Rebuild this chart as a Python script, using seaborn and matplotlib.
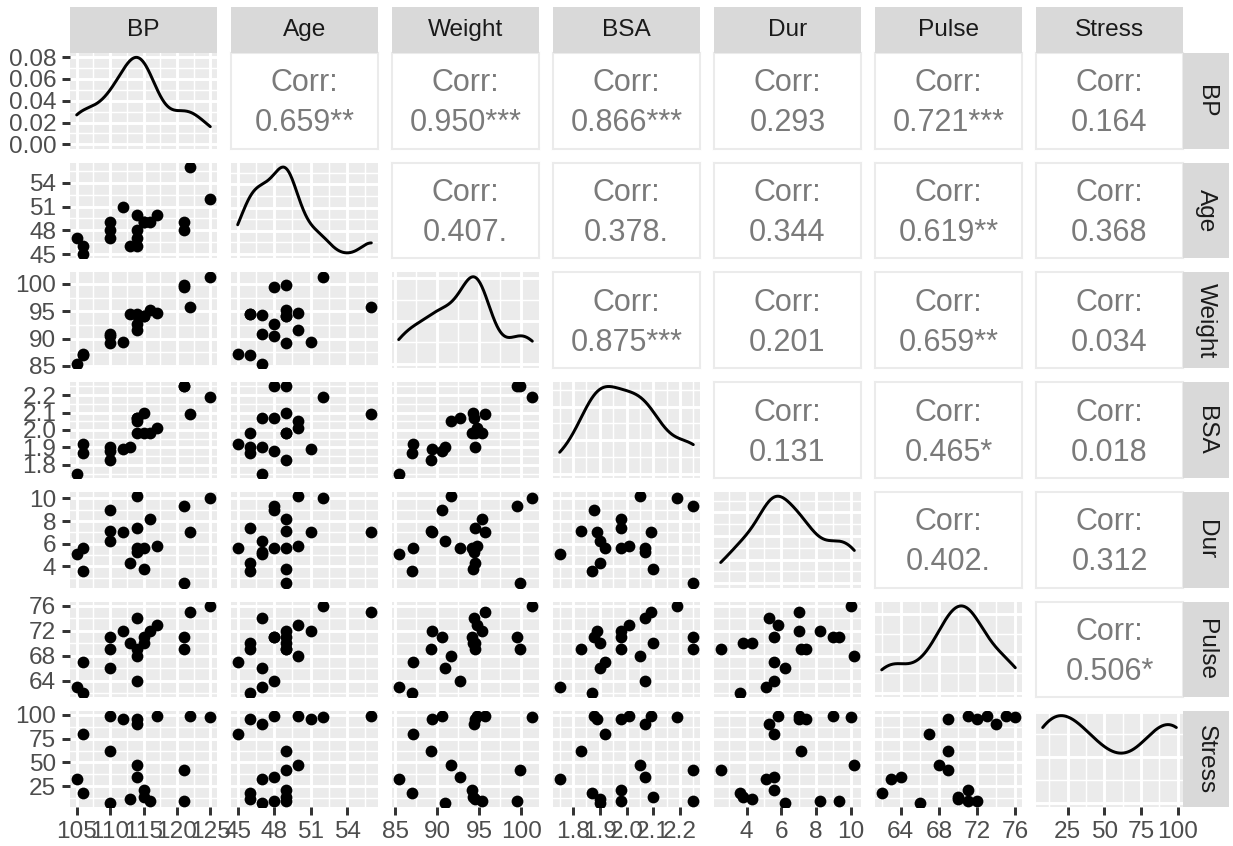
import math

import numpy as np
import pandas as pd
import matplotlib
matplotlib.use("Agg")
import matplotlib.pyplot as plt
from matplotlib.ticker import MaxNLocator
import seaborn as sns

# bloodpress data (20 patients)
bp = [105, 115, 116, 117, 112, 121, 121, 110, 110, 114,
      114, 115, 114, 106, 125, 114, 106, 113, 110, 122]
age = [47, 49, 49, 50, 51, 48, 49, 47, 49, 48,
       47, 49, 50, 45, 52, 46, 46, 46, 48, 56]
weight = [85.4, 94.2, 95.3, 94.7, 89.4, 99.5, 99.8, 90.9, 89.2, 92.7,
          94.4, 94.1, 91.6, 87.1, 101.3, 94.5, 87.0, 94.5, 90.5, 95.7]
bsa = [1.75, 2.10, 1.98, 2.01, 1.89, 2.25, 2.25, 1.90, 1.83, 2.07,
       2.07, 1.98, 2.05, 1.92, 2.19, 1.98, 1.87, 1.90, 1.88, 2.09]
dur = [5.1, 3.8, 8.2, 5.8, 7.0, 9.3, 2.5, 6.2, 7.1, 5.6,
       5.3, 5.6, 10.2, 5.6, 10.0, 7.4, 3.6, 4.3, 9.0, 7.0]
pulse = [63, 70, 72, 73, 72, 71, 69, 66, 69, 64,
         74, 71, 68, 67, 76, 69, 62, 70, 71, 75]
stress = [33, 14, 10, 99, 95, 10, 42, 8, 62, 35,
          90, 21, 47, 80, 98, 95, 18, 12, 99, 99]

# axis breaks
breaks = {
    "BP": [105, 110, 115, 120, 125],
    "Age": [45, 48, 51, 54],
    "Weight": [85, 90, 95, 100],
    "BSA": [1.8, 1.9, 2.0, 2.1, 2.2],
    "Dur": [4, 6, 8, 10],
    "Pulse": [64, 68, 72, 76],
    "Stress": [25, 50, 75, 100],
}
density_breaks = [0.00, 0.02, 0.04, 0.06, 0.08]

df = pd.DataFrame({"BP": bp, "Age": age, "Weight": weight, "BSA": bsa,
                   "Dur": dur, "Pulse": pulse, "Stress": stress})
names = list(df.columns)
n = len(names)

W, H = 1233, 846
SC = 4 / 3  # reference was drawn at a larger resolution than 150 dpi
PANEL_BG = "#EBEBEB"
STRIP_BG = "#D9D9D9"
MAJOR_LW = 1.07 * SC
MINOR_LW = 0.53 * SC
FS = 8.8 * SC


def padded(v):
    lo, hi = float(np.min(v)), float(np.max(v))
    d = (hi - lo) * 0.05
    return lo - d, hi + d


def minor_breaks(major, lo, hi):
    step = major[1] - major[0]
    b = list(major)
    if lo < b[0]:
        b = [b[0] - step] + b
    if hi > b[-1]:
        b = b + [b[-1] + step]
    mids = [(a + c) / 2 for a, c in zip(b[:-1], b[1:])]
    return [m for m in mids if lo <= m <= hi]


def nrd0_factor(v):
    # R's bw.nrd0 expressed as a factor of the sample sd
    v = np.asarray(v, dtype=float)
    sd = np.std(v, ddof=1)
    iqr = np.subtract(*np.percentile(v, [75, 25]))
    bw = 0.9 * min(sd, iqr / 1.34) * len(v) ** -0.2
    return bw / sd


def corr_label(a, b):
    a = np.asarray(a, dtype=float)
    b = np.asarray(b, dtype=float)
    r = np.corrcoef(a, b)[0, 1]
    nu = len(a) - 2
    t = abs(r) * math.sqrt(nu) / math.sqrt(1 - r * r)
    th = math.atan(t / math.sqrt(nu))
    term, total = 1.0, 1.0
    for k in range(1, nu // 2):
        term *= (2 * k - 1) / (2 * k) * math.cos(th) ** 2
        total += term
    p = 1 - math.sin(th) * total
    if p < 0.001:
        stars = "***"
    elif p < 0.01:
        stars = "**"
    elif p < 0.05:
        stars = "*"
    elif p < 0.1:
        stars = "."
    else:
        stars = ""
    return f"{r:.3f}{stars}"


def fmt(var, t):
    if var == "BSA":
        return f"{t:.1f}"
    if var == "density":
        return f"{t:.2f}"
    return f"{t:g}"


sns.set_theme(style="darkgrid")
plt.rcParams["font.family"] = ["Liberation Sans", "DejaVu Sans"]

fig, axes = plt.subplots(
    n, n, figsize=(W / 150, H / 150), dpi=150,
    gridspec_kw=dict(left=70 / W, right=1183 / W, top=1 - 53 / H,
                     bottom=1 - 807 / H, wspace=14 / 147, hspace=14 / 95.7),
)

for i, row_var in enumerate(names):
    for j, col_var in enumerate(names):
        ax = axes[i, j]
        x = df[col_var].to_numpy()

        # upper triangle: correlation text
        if i < j:
            ax.set_facecolor("white")
            ax.grid(False)
            ax.set_xticks([])
            ax.set_yticks([])
            for s in ax.spines.values():
                s.set_visible(True)
                s.set_color(PANEL_BG)
                s.set_linewidth(1.0)
            ax.text(0.5, 0.599, "Corr:", transform=ax.transAxes, ha="center",
                    va="baseline", fontsize=11 * SC, color="#7A7A7A")
            ax.text(0.5, 0.181, corr_label(df[row_var], df[col_var]),
                    transform=ax.transAxes, ha="center", va="baseline",
                    fontsize=11 * SC, color="#7A7A7A")
            continue

        ax.set_facecolor(PANEL_BG)
        xlim = padded(x)

        if i == j:
            sns.kdeplot(x=x, ax=ax, bw_method=nrd0_factor(x), cut=0,
                        gridsize=512, color="black", linewidth=MAJOR_LW)
            top = max(l.get_ydata().max() for l in ax.get_lines())
            ylim = (-0.05 * top, 1.05 * top)
            if i == 0:
                yticks = density_breaks
            else:
                loc = MaxNLocator(nbins=5, steps=[1, 2, 5, 10])
                yticks = [t for t in loc.tick_values(*ylim)
                          if ylim[0] <= t <= ylim[1]]
        else:
            y = df[row_var].to_numpy()
            sns.scatterplot(x=x, y=y, ax=ax, color="black", s=32,
                            linewidth=0, legend=False)
            ylim = padded(y)
            yticks = breaks[row_var]

        xticks = breaks[col_var]
        ax.set_xlim(xlim)
        ax.set_ylim(ylim)
        ax.set_xticks(xticks)
        ax.set_yticks(yticks)
        ax.set_xticks(minor_breaks(xticks, *xlim), minor=True)
        ax.set_yticks(minor_breaks(list(yticks), *ylim), minor=True)
        ax.set_xlabel("")
        ax.set_ylabel("")
        ax.set_axisbelow(True)
        ax.grid(which="major", color="white", linewidth=MAJOR_LW)
        ax.grid(which="minor", color="white", linewidth=MINOR_LW)
        for s in ax.spines.values():
            s.set_visible(False)

        ax.tick_params(which="minor", length=0)
        ax.tick_params(which="major", direction="out", length=2.75 * SC,
                       width=MAJOR_LW, color="#333333", pad=2.2 * SC,
                       labelsize=FS, labelcolor="#4D4D4D")
        bottom = i == n - 1
        left = j == 0
        ax.tick_params(axis="x", which="major", bottom=bottom,
                       labelbottom=bottom)
        ax.tick_params(axis="y", which="major", left=left, labelleft=left)
        if bottom:
            ax.set_xticklabels([fmt(col_var, t) for t in xticks])
        if left:
            yvar = "density" if i == 0 else row_var
            ax.set_yticklabels([fmt(yvar, t) for t in yticks])

# facet strips: variable names on top and on the right
for k, name in enumerate(names):
    pos = axes[0, k].get_position()
    sax = fig.add_axes([pos.x0, pos.y1, pos.width, 46 / H])
    pos = axes[k, -1].get_position()
    rax = fig.add_axes([pos.x1, pos.y0, 46 / W, pos.height])
    for a, rot in ((sax, 0), (rax, 270)):
        a.set_facecolor(STRIP_BG)
        a.grid(False)
        a.set_xticks([])
        a.set_yticks([])
        for s in a.spines.values():
            s.set_visible(False)
        a.text(0.5, 0.5, name, transform=a.transAxes, ha="center",
               va="center", rotation=rot, fontsize=FS, color="#1A1A1A")

fig.savefig("out.png", dpi=150)
